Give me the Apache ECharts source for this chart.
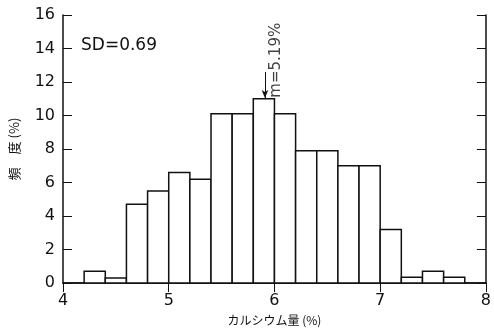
<!DOCTYPE html>
<html>
<head>
<meta charset="utf-8">
<script src="https://cdn.jsdelivr.net/npm/echarts@6/dist/echarts.min.js"></script>
<style>
  html, body { margin: 0; padding: 0; background: #fff; }
  #chart { width: 494px; height: 331px; }
</style>
</head>
<body>
<div id="chart"></div>
<script>
// histogram bins (left edge, %) and frequency (%)
const binStart = [4.2, 4.4, 4.6, 4.8, 5.0, 5.2, 5.4, 5.6, 5.8, 6.0, 6.2, 6.4, 6.6, 6.8, 7.0, 7.2, 7.4, 7.6]
const freq = [0.7, 0.3, 4.7, 5.5, 6.6, 6.2, 10.1, 10.1, 11.0, 10.1, 7.9, 7.9, 7.0, 7.0, 3.2, 0.35, 0.7, 0.35]
const binWidth = 0.2
const meanArrow = [[5.91, 12.6], [5.91, 11.05]]
const meanLabel = [6.02, 13.3]

const font = 'DejaVu Sans'
const chart = echarts.init(document.getElementById('chart'))

const option = {
  backgroundColor: '#fff',
  animation: false,
  grid: { left: 60, right: 6, top: 15, bottom: 44 },
  xAxis: [
    {
      type: 'value', min: 4, max: 8, interval: 1, position: 'bottom',
      name: 'カルシウム量 (%)', nameLocation: 'middle', nameGap: 28,
      nameTextStyle: { fontFamily: 'Noto Sans CJK JP', fontSize: 12, color: '#111' },
      axisLine: { lineStyle: { color: '#111', width: 1.5 } },
      axisTick: { show: false },
      splitLine: { show: false },
      axisLabel: { fontFamily: font, fontSize: 16, color: '#111', margin: 10 }
    },
    {
      type: 'value', min: 4, max: 8, interval: 1, position: 'top',
      axisLine: { lineStyle: { color: '#111', width: 1.5 } },
      axisTick: { inside: true, length: 9, lineStyle: { color: '#111' } },
      splitLine: { show: false },
      axisLabel: { show: false }
    }
  ],
  yAxis: [
    {
      type: 'value', min: 0, max: 16, interval: 2, position: 'left',
      name: '頻　度 (%)', nameLocation: 'middle', nameGap: 42,
      nameTextStyle: { fontFamily: 'Noto Sans CJK JP', fontSize: 13, color: '#111' },
      axisLine: { show: true, lineStyle: { color: '#111', width: 1.5 } },
      axisTick: { show: true, inside: true, length: 9, lineStyle: { color: '#111' } },
      splitLine: { show: false },
      axisLabel: { fontFamily: font, fontSize: 16, color: '#111', margin: 8 }
    },
    {
      type: 'value', min: 0, max: 16, interval: 2, position: 'right',
      axisLine: { show: true, lineStyle: { color: '#111', width: 1.5 } },
      axisTick: { show: true, inside: true, length: 9, lineStyle: { color: '#111' } },
      splitLine: { show: false },
      axisLabel: { show: false }
    }
  ],
  graphic: [
    {
      type: 'text', left: 81, top: 37,
      style: { text: 'SD=0.69', font: '17px "DejaVu Sans"', fill: '#111' }
    }
  ],
  series: [
    {
      type: 'custom',
      xAxisIndex: 0, yAxisIndex: 0,
      data: binStart.map((s, i) => [s, freq[i]]),
      renderItem: function (params, api) {
        const x0 = api.value(0)
        const p1 = api.coord([x0, api.value(1)])
        const p2 = api.coord([x0 + binWidth, 0])
        return {
          type: 'rect',
          shape: { x: p1[0], y: p1[1], width: p2[0] - p1[0], height: p2[1] - p1[1] },
          style: { fill: '#fff', stroke: '#111', lineWidth: 1.5 }
        }
      },
      z: 1
    },
    {
      type: 'scatter',
      data: [meanLabel],
      symbolSize: 0,
      label: {
        show: true, position: 'inside', rotate: 90,
        formatter: 'm=5.19%',
        fontFamily: font, fontSize: 15, color: '#111'
      },
      markLine: {
        silent: true,
        symbol: ['none', 'arrow'],
        symbolSize: [5, 8],
        label: { show: false },
        lineStyle: { color: '#111', width: 1, type: 'solid' },
        data: [[{ coord: meanArrow[0] }, { coord: meanArrow[1] }]]
      },
      z: 3
    }
  ]
}

chart.setOption(option)
</script>
</body>
</html>
